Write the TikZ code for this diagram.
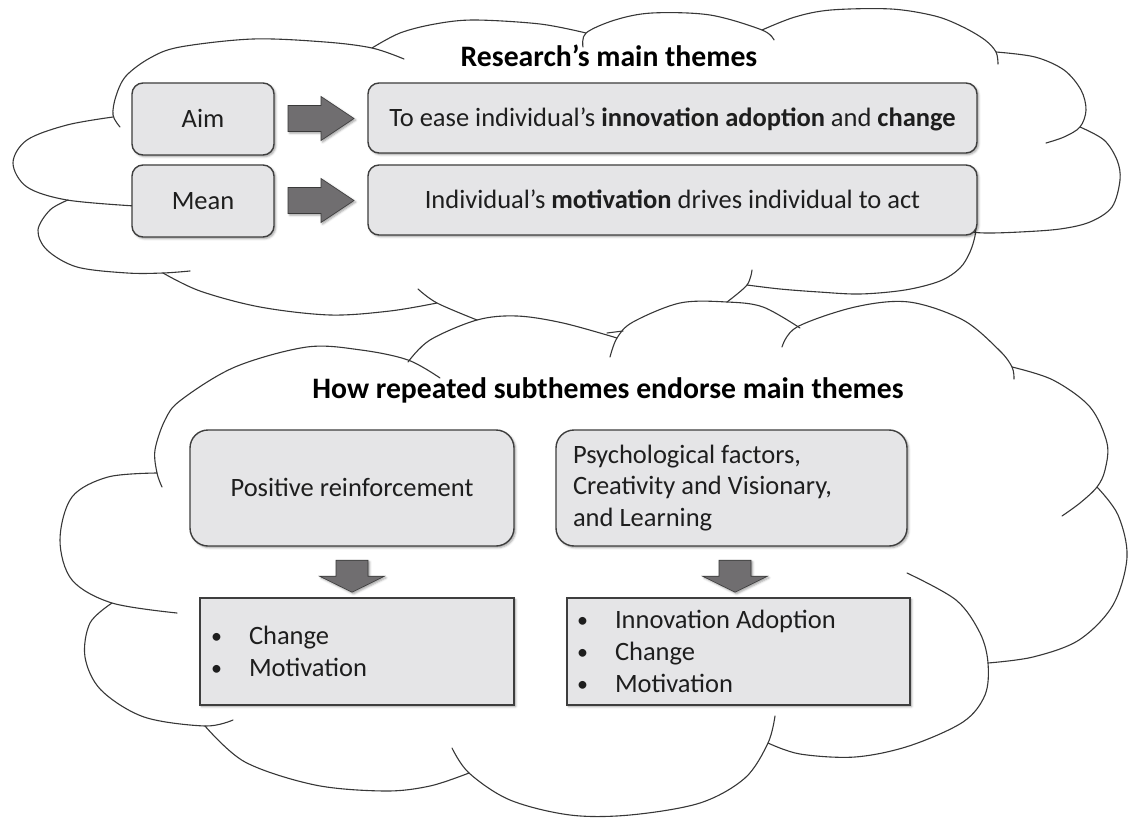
\documentclass[tikz,border=0pt]{standalone}
\usepackage{fontspec}
\setmainfont{Carlito}
\usetikzlibrary{calc,shadows.blur}

\definecolor{boxfill}{RGB}{229,229,231}
\definecolor{boxline}{RGB}{62,62,62}
\definecolor{arrowfill}{RGB}{112,110,112}
\definecolor{arrowline}{RGB}{58,58,58}
\definecolor{cloudline}{RGB}{55,55,55}
\definecolor{ink}{RGB}{30,30,30}

\tikzset{
  softshadow/.style={blur shadow={shadow xshift=1.6pt, shadow yshift=-1.6pt,
      shadow blur radius=2.2pt, shadow opacity=38}},
  cloudarc/.style={draw=cloudline, line width=1.1pt, line cap=round},
  boxbase/.style={draw=boxline, line width=1.4pt, fill=boxfill, softshadow,
      inner sep=0pt, text=ink, font=\fontsize{26.5}{31.5}\selectfont},
  oneline/.style={text height=17.2pt, text depth=0pt},
  themebox/.style={boxbase, oneline, rounded corners=11pt},
  subbox/.style={boxbase, rounded corners=18pt},
  listbox/.style={boxbase, font=\fontsize{26.5}{32}\selectfont, align=left},
  heading/.style={text=black, font=\bfseries\fontsize{29.7}{34}\selectfont,
      inner sep=0pt, anchor=base},
  blockarrow/.style={fill=arrowfill, draw=arrowline, line width=0.6pt, softshadow},
  pics/rightarrow/.style={code={
    \path[blockarrow] (-33,-13) -- (0,-13) -- (0,-22) -- (33,0) -- (0,22)
      -- (0,13) -- (-33,13) -- cycle;}},
  pics/downarrow/.style={code={
    \path[blockarrow] (-16,-16) -- (16,-16) -- (16,0) -- (32.5,0) -- (0,16)
      -- (-32.5,0) -- (-16,0) -- cycle;}},
}
% use the font's own word spacing inside left-aligned nodes
\newcommand\natspaces{\spaceskip=0pt\xspaceskip=0pt\relax}
\newcommand\bulletrow[1]{\makebox[38pt][l]{\raisebox{1.2pt}{\fontsize{22}{22}\selectfont •}}#1}

\begin{document}
\begin{tikzpicture}[x=1pt,y=-1pt]
\useasboundingbox (0,0) rectangle (1132,821);

% ---------- upper cloud ----------
\draw[cloudarc] plot[smooth,tension=0.55] coordinates {(120,127) (113,115) (116,96) (126,76) (150,58) (180,47) (253,39) (325,42) (372,48) (404,59)};
\draw[cloudarc] plot[smooth,tension=0.55] coordinates {(372,48) (400,33) (435,24) (474,20) (540,24) (586,33)};
\draw[cloudarc] plot[smooth,tension=0.55] coordinates {(583,47) (586,33) (615,20) (652,13) (710,15) (762,30) (774,40)};
\draw[cloudarc] plot[smooth,tension=0.55] coordinates {(762,30) (795,17) (831,10) (891,9) (935,16) (963,27) (985,40) (996,52) (998,64)};
\draw[cloudarc] plot[smooth,tension=0.55] coordinates {(996,52) (1035,57) (1064,70) (1081,90) (1086,110) (1080,127) (1064,137) (1046,143)};
\draw[cloudarc] plot[smooth,tension=0.55] coordinates {(1080,127) (1104,140) (1117,160) (1120,180) (1112,207) (1090,222) (1060,229) (1020,232) (985,233) (960,231)};
\draw[cloudarc] plot[smooth,tension=0.55] coordinates {(976,224) (975,236) (970,252) (960,268) (940,281) (905,290) (860,294) (819,292) (780,289) (747,285)};
\draw[cloudarc] plot[smooth,tension=0.55] coordinates {(418,289) (437,303) (477,320)};
\draw[cloudarc] plot[smooth,tension=0.55] coordinates {(607,333) (623,331)};
\draw[cloudarc] plot[smooth,tension=0.55] coordinates {(727,302) (747,285) (752,270)};
\draw[cloudarc] plot[smooth,tension=0.55] coordinates {(163,273) (200,291) (260,307) (330,315) (390,311) (437,303)};
\draw[cloudarc] plot[smooth,tension=0.55] coordinates {(68,200) (50,210) (38,230) (47,250) (77,267) (127,273) (163,273) (190,271)};
\draw[cloudarc] plot[smooth,tension=0.55] coordinates {(113,117) (67,125) (27,140) (13,163) (27,187) (67,200) (135,206)};

% ---------- lower cloud ----------
\draw[cloudarc] plot[smooth,tension=0.55] coordinates {(162,487) (157,473) (155,450) (165,420) (181,400) (235,367) (307,347) (361,350) (408,360) (440,378)};
\draw[cloudarc] plot[smooth,tension=0.55] coordinates {(408,362) (430,340) (477,320) (517,316) (563,323) (617,338)};
\draw[cloudarc] plot[smooth,tension=0.55] coordinates {(610,357) (617,338) (633,322) (680,303) (727,302) (763,307) (800,328)};
\draw[cloudarc] plot[smooth,tension=0.55] coordinates {(782,347) (797,327) (855,307) (909,302) (963,320) (999,350) (1012,367) (1014,379)};
\draw[cloudarc] plot[smooth,tension=0.55] coordinates {(1012,367) (1053,380) (1090,407) (1107,443) (1105,470) (1097,487) (1080,503) (1062,516)};
\draw[cloudarc] plot[smooth,tension=0.55] coordinates {(1097,487) (1118,515) (1127,557) (1113,605) (1079,640) (1033,657) (988,663)};
\draw[cloudarc] plot[smooth,tension=0.55] coordinates {(907,573) (956,600) (980,633) (988,663) (985,695) (963,722) (909,746) (855,757) (800,754) (768,743)};
\draw[cloudarc] plot[smooth,tension=0.55] coordinates {(775,716) (768,743) (745,778) (700,803) (630,815) (570,815) (510,800) (469,773) (452,748)};
\draw[cloudarc] plot[smooth,tension=0.55] coordinates {(469,773) (430,786) (385,791) (315,785) (245,762) (205,726)};
\draw[cloudarc] plot[smooth,tension=0.55] coordinates {(112,603) (90,623) (85,657) (101,690) (144,717) (205,726) (233,720)};
\draw[cloudarc] plot[smooth,tension=0.55] coordinates {(157,473) (108,477) (72,497) (60,540) (72,580) (112,603) (177,613)};

% ---------- main themes ----------
\node[heading] (title1) at (609,67) {Research’s main themes};
\node[themebox, minimum width=142pt, minimum height=72pt] (aim) at (203,119) {Aim};
\node[themebox, minimum width=142pt, minimum height=72pt] (mean) at (203,201) {Mean};
\node[themebox, minimum width=609pt, minimum height=70pt] (ease) at (672.5,118)
  {To ease individual’s \textbf{innovation adoption} and \textbf{change}};
\node[themebox, minimum width=609pt, minimum height=70pt] (indiv) at (672.5,200)
  {Individual’s \textbf{motivation} drives individual to act};

\path ($(aim.east)!0.5!(ease.west)$) pic {rightarrow};
\path ($(mean.east)!0.5!(indiv.west)$) pic {rightarrow};

% ---------- subthemes ----------
\node[heading] (title2) at (608,398) {How repeated subthemes endorse main themes};
\node[subbox, oneline, minimum width=324pt, minimum height=116pt] (pos) at (352,488) {Positive reinforcement};
\node[subbox, minimum width=351pt, minimum height=116pt, text width=317pt, align=left] (psy) at (731.5,488)
  {\natspaces Psychological factors,\\Creativity and Visionary,\\and Learning};

\node[listbox, minimum width=314pt, minimum height=107pt, text width=292pt] (list1) at (357,651.5)
  {\natspaces\bulletrow{Change}\\\bulletrow{Motivation}};
\node[listbox, minimum width=343pt, minimum height=107pt, text width=323pt] (list2) at (738.5,651.5)
  {\natspaces\bulletrow{Innovation Adoption}\\\bulletrow{Change}\\\bulletrow{Motivation}};

\path ($(pos.south)+(0,29.5)$) pic {downarrow};
\path ($(psy.south)+(3.5,29.5)$) pic {downarrow};
\end{tikzpicture}
\end{document}
